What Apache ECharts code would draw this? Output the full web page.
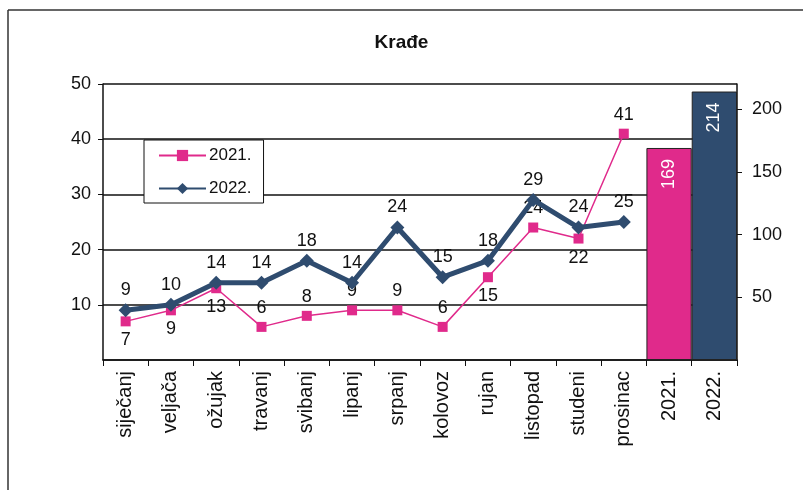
<!DOCTYPE html>
<html>
<head>
<meta charset="utf-8">
<script src="https://cdn.jsdelivr.net/npm/echarts@6/dist/echarts.min.js"></script>
<style>
  html, body { margin: 0; padding: 0; background: #fff; }
  #chart { width: 803px; height: 490px; }
</style>
</head>
<body>
<div id="chart"></div>
<script>
var months = ['siječanj', 'veljača', 'ožujak', 'travanj', 'svibanj', 'lipanj', 'srpanj', 'kolovoz', 'rujan', 'listopad', 'studeni', 'prosinac'];
var yearNames = ['2021.', '2022.'];
var data2021 = [7, 9, 13, 6, 8, 9, 9, 6, 15, 24, 22, 41];
var data2022 = [9, 10, 14, 14, 18, 14, 24, 15, 18, 29, 24, 25];
var yearTotals = [169, 214];
// which 2021 labels sit under the point
var below2021 = [0, 1, 2, 8, 10];

var pink = '#e02a8b';
var navy = '#2f4c6f';
var font = 'Liberation Sans, Arial, sans-serif';

var categories = months.concat(yearNames);

var pinkData = data2021.map(function (v, i) {
    return below2021.indexOf(i) >= 0 ? { value: v, label: { position: 'bottom' } } : v;
});

var barData = months.map(function () { return '-'; }).concat(
    yearTotals.map(function (v, i) {
        return { value: v, itemStyle: { color: i === 0 ? pink : navy } };
    })
);

var myChart = echarts.init(document.getElementById('chart'));
var option = {
    animation: false,
    backgroundColor: '#fff',
    textStyle: { fontFamily: font },
    title: {
        text: 'Krađe',
        left: 'center',
        top: 28,
        textStyle: { fontSize: 19, fontWeight: 'bold', color: '#111', fontFamily: font }
    },
    graphic: [
        { type: 'line', shape: { x1: 8, y1: 10, x2: 803, y2: 10 }, style: { stroke: '#333', lineWidth: 1.5 } },
        { type: 'line', shape: { x1: 8, y1: 10, x2: 8, y2: 490 }, style: { stroke: '#333', lineWidth: 1.5 } }
    ],
    legend: {
        orient: 'vertical',
        left: 144,
        top: 140,
        data: ['2021.', '2022.'],
        itemWidth: 47,
        itemHeight: 14,
        itemGap: 16,
        padding: [7, 12, 6, 14],
        borderColor: '#111',
        borderWidth: 1,
        backgroundColor: '#fff',
        textStyle: { fontSize: 17, color: '#111', fontFamily: font, padding: [0, 0, 0, -2] }
    },
    grid: { left: 103, right: 66, top: 84, bottom: 130 },
    xAxis: {
        type: 'category',
        data: categories,
        boundaryGap: true,
        axisLine: { lineStyle: { color: '#111', width: 1.5 } },
        axisTick: { show: true, length: 6, lineStyle: { color: '#111' } },
        axisLabel: { rotate: 90, fontSize: 20, color: '#111', margin: 11, interval: 0, fontFamily: font }
    },
    yAxis: [
        {
            type: 'value',
            min: 0,
            max: 50,
            interval: 10,
            axisLine: { show: true, lineStyle: { color: '#111', width: 1.5 } },
            axisTick: { show: true, length: 5, lineStyle: { color: '#111' } },
            axisLabel: { showMinLabel: false, fontSize: 18, color: '#111', margin: 12, fontFamily: font },
            splitLine: { show: true, lineStyle: { color: '#111', width: 1.5 } }
        },
        {
            type: 'value',
            min: 0,
            max: 220,
            interval: 50,
            position: 'right',
            axisLine: { show: true, lineStyle: { color: '#111', width: 1.5 } },
            axisTick: { show: true, length: 5, lineStyle: { color: '#111' } },
            axisLabel: { showMinLabel: false, showMaxLabel: false, fontSize: 18, color: '#111', margin: 15, fontFamily: font },
            splitLine: { show: false }
        }
    ],
    series: [
        {
            name: 'totals',
            type: 'bar',
            yAxisIndex: 1,
            barWidth: '100%',
            data: barData,
            itemStyle: { borderColor: '#222', borderWidth: 1 },
            label: {
                show: true,
                position: 'insideTop',
                rotate: 90,
                align: 'right',
                verticalAlign: 'middle',
                distance: 11,
                color: '#fff',
                fontSize: 18,
                fontFamily: font
            },
            z: 1
        },
        {
            name: '2021.',
            type: 'line',
            data: pinkData,
            color: pink,
            symbol: 'rect',
            symbolSize: 10,
            lineStyle: { width: 1.5, color: pink },
            itemStyle: { color: pink },
            label: { show: true, position: 'top', distance: 5, color: '#111', fontSize: 18, fontFamily: font },
            z: 3
        },
        {
            name: '2022.',
            type: 'line',
            data: data2022,
            color: navy,
            symbol: 'diamond',
            symbolSize: 14,
            lineStyle: { width: 5, color: navy },
            itemStyle: { color: navy },
            label: { show: true, position: 'top', distance: 4, color: '#111', fontSize: 18, fontFamily: font },
            z: 4
        }
    ]
};
myChart.setOption(option);
</script>
</body>
</html>
